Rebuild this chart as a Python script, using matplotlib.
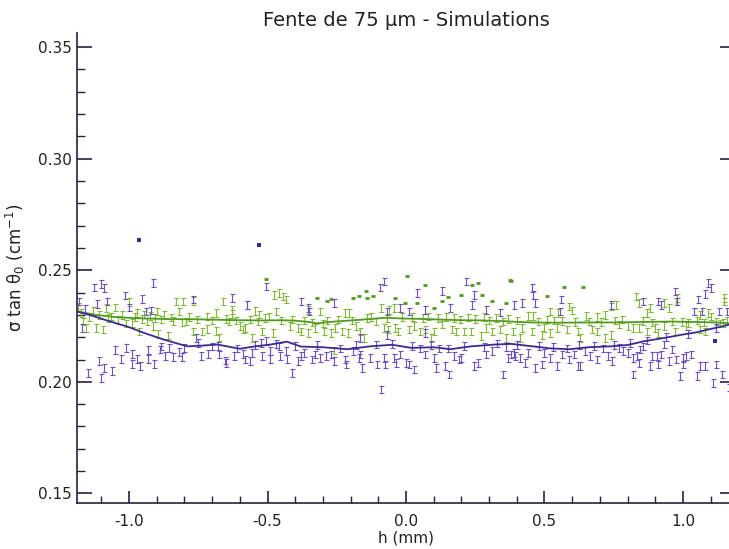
import matplotlib

matplotlib.use("Agg")
import numpy as np
import matplotlib.pyplot as plt
from matplotlib.ticker import MultipleLocator

TITLE = "Fente de 75 μm - Simulations"
XLABEL = "h (mm)"
YLABEL = r"σ tan θ$_0$ (cm$^{-1}$)"

# error half-height of the simulated points
ERR = 0.0017

# green series: points with error bars (h in mm, value in cm^-1)
GREEN_H = [
    -1.185, -1.175, -1.165, -1.155, -1.145, -1.13, -1.12, -1.11, -1.095, -1.085,
    -1.075, -1.065, -1.05, -1.04, -1.025, -1.01, -1.0, -0.99, -0.98, -0.97,
    -0.965, -0.955, -0.945, -0.935, -0.925, -0.915, -0.905, -0.9, -0.895, -0.885,
    -0.875, -0.86, -0.85, -0.84, -0.83, -0.82, -0.81, -0.805, -0.795, -0.785,
    -0.77, -0.77, -0.755, -0.735, -0.72, -0.72, -0.7, -0.685, -0.685, -0.675,
    -0.66, -0.65, -0.64, -0.627, -0.627, -0.615, -0.6, -0.59, -0.58, -0.573,
    -0.565, -0.555, -0.545, -0.535, -0.53, -0.52, -0.51, -0.495, -0.48, -0.476,
    -0.47, -0.46, -0.45, -0.445, -0.433, -0.42, -0.41, -0.39, -0.38, -0.37,
    -0.355, -0.355, -0.34, -0.33, -0.31, -0.3, -0.295, -0.285, -0.27, -0.26,
    -0.255, -0.245, -0.23, -0.22, -0.21, -0.205, -0.195, -0.18, -0.165, -0.15,
    -0.14, -0.125, -0.11, -0.09, -0.08, -0.07, -0.065, -0.06, -0.045, -0.04,
    -0.03, -0.015, 0.01, 0.02, 0.03, 0.05, 0.06, 0.07, 0.08, 0.09,
    0.1, 0.115, 0.13, 0.145, 0.165, 0.175, 0.18, 0.195, 0.21, 0.225,
    0.235, 0.25, 0.27, 0.28, 0.29, 0.3, 0.31, 0.325, 0.34, 0.35,
    0.36, 0.37, 0.385, 0.4, 0.41, 0.42, 0.44, 0.455, 0.46, 0.475,
    0.49, 0.5, 0.51, 0.52, 0.52, 0.535, 0.545, 0.55, 0.565, 0.58,
    0.59, 0.6, 0.61, 0.62, 0.63, 0.65, 0.66, 0.67, 0.69, 0.69,
    0.705, 0.72, 0.72, 0.74, 0.74, 0.755, 0.76, 0.77, 0.78, 0.8,
    0.82, 0.83, 0.84, 0.84, 0.855, 0.87, 0.87, 0.88, 0.89, 0.9,
    0.91, 0.93, 0.93, 0.95, 0.96, 0.97, 0.975, 0.98, 0.995, 1.01,
    1.02, 1.04, 1.05, 1.06, 1.06, 1.075, 1.08, 1.09, 1.1, 1.12,
    1.135, 1.145, 1.148, 1.15, 1.16,
]
GREEN_V = [
    0.2335, 0.2308, 0.2270, 0.2241, 0.2290, 0.2318, 0.2241, 0.2300, 0.2234, 0.2330,
    0.2285, 0.2293, 0.2333, 0.2278, 0.2300, 0.2262, 0.2357, 0.2263, 0.2290, 0.2308,
    0.2226, 0.2282, 0.2301, 0.2270, 0.2295, 0.2250, 0.2285, 0.2316, 0.2214, 0.2280,
    0.2300, 0.2208, 0.2288, 0.2272, 0.2360, 0.2316, 0.2265, 0.2360, 0.2271, 0.2290,
    0.2226, 0.2363, 0.2280, 0.2226, 0.2237, 0.2293, 0.2275, 0.2229, 0.2308, 0.2199,
    0.2360, 0.2282, 0.2270, 0.2323, 0.2305, 0.2275, 0.2249, 0.2234, 0.2241, 0.2345,
    0.2280, 0.2196, 0.2318, 0.2270, 0.2302, 0.2226, 0.2285, 0.2293, 0.2219, 0.2390,
    0.2316, 0.2398, 0.2275, 0.2383, 0.2368, 0.2249, 0.2280, 0.2241, 0.2226, 0.2275,
    0.2323, 0.2219, 0.2265, 0.2241, 0.2316, 0.2262, 0.2226, 0.2275, 0.2219, 0.2140,
    0.2241, 0.2280, 0.2226, 0.2308, 0.2219, 0.2308, 0.2275, 0.2249, 0.2226, 0.2196,
    0.2285, 0.2290, 0.2270, 0.2330, 0.2241, 0.2285, 0.2234, 0.2323, 0.2330, 0.2241,
    0.2226, 0.2290, 0.2234, 0.2290, 0.2249, 0.2226, 0.2285, 0.2234, 0.2292, 0.2196,
    0.2226, 0.2285, 0.2256, 0.2290, 0.2234, 0.2285, 0.2226, 0.2280, 0.2226, 0.2288,
    0.2226, 0.2282, 0.2204, 0.2290, 0.2241, 0.2275, 0.2226, 0.2285, 0.2234, 0.2270,
    0.2196, 0.2282, 0.2226, 0.2275, 0.2196, 0.2241, 0.2296, 0.2226, 0.2296, 0.2270,
    0.2211, 0.2241, 0.2280, 0.2219, 0.2316, 0.2275, 0.2241, 0.2308, 0.2272, 0.2234,
    0.2338, 0.2320, 0.2268, 0.2226, 0.2196, 0.2296, 0.2270, 0.2234, 0.2226, 0.2290,
    0.2268, 0.2196, 0.2300, 0.2211, 0.2338, 0.2275, 0.2343, 0.2256, 0.2280, 0.2249,
    0.2241, 0.2383, 0.2353, 0.2241, 0.2272, 0.2226, 0.2308, 0.2330, 0.2265, 0.2241,
    0.2219, 0.2249, 0.2353, 0.2330, 0.2270, 0.2226, 0.2360, 0.2375, 0.2268, 0.2249,
    0.2263, 0.2316, 0.2275, 0.2234, 0.2300, 0.2266, 0.2226, 0.2308, 0.2293, 0.2271,
    0.2262, 0.2263, 0.2375, 0.2360, 0.2275,
]
# green points whose error bar is only a short dash
GREEN_DOT_H = [
    -0.505, -0.32, -0.285, -0.272, -0.19, -0.17, -0.145, -0.14, -0.12, -0.04,
    -0.005, 0.005, 0.04, 0.07, 0.1, 0.13, 0.15, 0.2, 0.24, 0.26,
    0.275, 0.31, 0.36, 0.375, 0.38, 0.51, 0.57, 0.64,
]
GREEN_DOT_V = [
    0.2460, 0.2375, 0.2360, 0.2372, 0.2375, 0.2383, 0.2408, 0.2375, 0.2383, 0.2375,
    0.2353, 0.2475, 0.2353, 0.2435, 0.2333, 0.2360, 0.2378, 0.2390, 0.2435, 0.2442,
    0.2390, 0.2360, 0.2353, 0.2457, 0.2453, 0.2383, 0.2423, 0.2427,
]
# smoothed green curve
GREEN_LINE_H = [
    -1.19, -1.12, -1.05, -0.95, -0.85, -0.75, -0.68, -0.6, -0.52, -0.45,
    -0.4, -0.35, -0.32, -0.28, -0.2, -0.12, -0.08, -0.02, 0.05, 0.12,
    0.2, 0.28, 0.35, 0.38, 0.45, 0.55, 0.65, 0.75, 0.85, 0.95,
    1.05, 1.12, 1.19,
]
GREEN_LINE_V = [
    0.2316, 0.2300, 0.2290, 0.2284, 0.2281, 0.2280, 0.2278, 0.2276, 0.2275, 0.2276,
    0.2274, 0.2268, 0.2262, 0.2268, 0.2275, 0.2282, 0.2287, 0.2284, 0.2282, 0.2279,
    0.2276, 0.2275, 0.2272, 0.2270, 0.2266, 0.2265, 0.2266, 0.2266, 0.2268, 0.2270,
    0.2268, 0.2266, 0.2260,
]

# purple series: points with error bars
PURPLE_H = [
    -1.18, -1.17, -1.16, -1.15, -1.128, -1.114, -1.11, -1.1, -1.1, -1.09,
    -1.09, -1.08, -1.06, -1.05, -1.03, -1.015, -1.01, -1.0, -0.99, -0.99,
    -0.97, -0.96, -0.955, -0.94, -0.93, -0.93, -0.92, -0.913, -0.91, -0.89,
    -0.885, -0.87, -0.855, -0.84, -0.82, -0.81, -0.8, -0.77, -0.76, -0.75,
    -0.74, -0.715, -0.7, -0.68, -0.675, -0.655, -0.65, -0.63, -0.62, -0.61,
    -0.59, -0.58, -0.573, -0.565, -0.555, -0.545, -0.525, -0.52, -0.505, -0.505,
    -0.49, -0.49, -0.47, -0.46, -0.455, -0.435, -0.43, -0.41, -0.4, -0.39,
    -0.38, -0.38, -0.37, -0.355, -0.35, -0.34, -0.33, -0.32, -0.31, -0.29,
    -0.27, -0.26, -0.26, -0.24, -0.22, -0.215, -0.19, -0.18, -0.17, -0.165,
    -0.165, -0.16, -0.13, -0.11, -0.105, -0.095, -0.09, -0.08, -0.08, -0.075,
    -0.07, -0.07, -0.05, -0.045, -0.035, -0.02, -0.02, 0.0, 0.01, 0.01,
    0.02, 0.03, 0.04, 0.05, 0.07, 0.07, 0.07, 0.09, 0.1, 0.11,
    0.12, 0.13, 0.14, 0.15, 0.155, 0.16, 0.175, 0.19, 0.2, 0.21,
    0.215, 0.24, 0.245, 0.245, 0.26, 0.28, 0.29, 0.29, 0.31, 0.33,
    0.34, 0.35, 0.36, 0.37, 0.38, 0.39, 0.39, 0.395, 0.4, 0.41,
    0.42, 0.43, 0.44, 0.455, 0.46, 0.465, 0.465, 0.48, 0.49, 0.5,
    0.52, 0.53, 0.545, 0.555, 0.56, 0.565, 0.58, 0.59, 0.605, 0.62,
    0.625, 0.63, 0.645, 0.665, 0.68, 0.69, 0.71, 0.73, 0.74, 0.745,
    0.75, 0.77, 0.785, 0.8, 0.81, 0.82, 0.82, 0.835, 0.84, 0.845,
    0.855, 0.855, 0.87, 0.88, 0.89, 0.905, 0.91, 0.91, 0.92, 0.92,
    0.93, 0.94, 0.95, 0.96, 0.97, 0.975, 0.98, 0.99, 1.0, 1.0,
    1.01, 1.02, 1.03, 1.04, 1.05, 1.055, 1.06, 1.07, 1.08, 1.08,
    1.09, 1.1, 1.11, 1.12, 1.12, 1.13, 1.14, 1.16, 1.165,
]
PURPLE_V = [
    0.2360, 0.2240, 0.2325, 0.2040, 0.2423, 0.2348, 0.2092, 0.2438, 0.2018, 0.2420,
    0.2063, 0.2360, 0.2048, 0.2142, 0.2101, 0.2387, 0.2152, 0.2333, 0.2124, 0.2080,
    0.2103, 0.2070, 0.2371, 0.2316, 0.2142, 0.2103, 0.2320, 0.2442, 0.2079, 0.2145,
    0.2159, 0.2115, 0.2152, 0.2110, 0.2134, 0.2110, 0.2152, 0.2368, 0.2196, 0.2175,
    0.2115, 0.2125, 0.2159, 0.2160, 0.2122, 0.2096, 0.2085, 0.2375, 0.2115, 0.2150,
    0.2125, 0.2100, 0.2345, 0.2092, 0.2129, 0.2165, 0.2174, 0.2115, 0.2427, 0.2182,
    0.2137, 0.2103, 0.2170, 0.2159, 0.2115, 0.2137, 0.2103, 0.2040, 0.2160, 0.2092,
    0.2360, 0.2115, 0.2130, 0.2330, 0.2316, 0.2100, 0.2122, 0.2165, 0.2107, 0.2115,
    0.2122, 0.2353, 0.2092, 0.2150, 0.2100, 0.2078, 0.2137, 0.2165, 0.2107, 0.2122,
    0.2196, 0.2063, 0.2107, 0.2168, 0.2078, 0.2423, 0.1966, 0.2450, 0.2107, 0.2078,
    0.2316, 0.2211, 0.2170, 0.2107, 0.2085, 0.2330, 0.2122, 0.2085, 0.2316, 0.2078,
    0.2160, 0.2055, 0.2398, 0.2150, 0.2323, 0.2219, 0.2122, 0.2165, 0.2107, 0.2063,
    0.2150, 0.2408, 0.2070, 0.2150, 0.2033, 0.2330, 0.2115, 0.2100, 0.2107, 0.2160,
    0.2450, 0.2345, 0.2390, 0.2070, 0.2085, 0.2155, 0.2323, 0.2122, 0.2137, 0.2172,
    0.2310, 0.2033, 0.2155, 0.2107, 0.2122, 0.2130, 0.2345, 0.2115, 0.2165, 0.2107,
    0.2353, 0.2085, 0.2130, 0.2420, 0.2390, 0.2353, 0.2063, 0.2160, 0.2078, 0.2130,
    0.2107, 0.2155, 0.2070, 0.2316, 0.2368, 0.2122, 0.2150, 0.2100, 0.2122, 0.2070,
    0.2165, 0.2070, 0.2137, 0.2115, 0.2160, 0.2100, 0.2150, 0.2115, 0.2345, 0.2092,
    0.2165, 0.2152, 0.2137, 0.2130, 0.2175, 0.2107, 0.2033, 0.2115, 0.2085, 0.2145,
    0.2159, 0.2360, 0.2185, 0.2070, 0.2115, 0.2115, 0.2360, 0.2078, 0.2345, 0.2122,
    0.2167, 0.2200, 0.2092, 0.2145, 0.2405, 0.2100, 0.2360, 0.2026, 0.2107, 0.2078,
    0.2115, 0.2215, 0.2122, 0.2316, 0.2026, 0.2368, 0.2070, 0.2316, 0.2393, 0.2070,
    0.2442, 0.2420, 0.1996, 0.2078, 0.2240, 0.2316, 0.2033, 0.2316, 0.1975,
]
# isolated purple points drawn as plain dots
PURPLE_DOT_H = [-0.963, -0.53, 1.115]
PURPLE_DOT_V = [0.2637, 0.2615, 0.2182]
# smoothed purple curve
PURPLE_LINE_H = [
    -1.19, -1.13, -1.07, -1.0, -0.946, -0.874, -0.79, -0.74, -0.68, -0.6,
    -0.55, -0.49, -0.43, -0.38, -0.3, -0.21, -0.13, -0.05, 0.02, 0.1,
    0.16, 0.235, 0.32, 0.38, 0.45, 0.52, 0.59, 0.66, 0.74, 0.8,
    0.86, 0.93, 1.0, 1.05, 1.09, 1.13, 1.19,
]
PURPLE_LINE_V = [
    0.2316, 0.2295, 0.2271, 0.2245, 0.2219, 0.2189, 0.2159, 0.2162, 0.2167, 0.2148,
    0.2158, 0.2167, 0.2180, 0.2158, 0.2155, 0.2146, 0.2159, 0.2166, 0.2152, 0.2155,
    0.2146, 0.2159, 0.2167, 0.2170, 0.2160, 0.2150, 0.2146, 0.2155, 0.2159, 0.2165,
    0.2182, 0.2196, 0.2212, 0.2222, 0.2234, 0.2245, 0.2263,
]

GREEN_PTS = "#80b83a"
GREEN_LN = "#4f9a1c"
PURPLE_PTS = "#6e50c4"
PURPLE_LN = "#3a2a92"
AXIS = "#2a1f3d"
TEXT = "#222222"

plt.rcParams["font.family"] = ["DejaVu Sans"]

fig = plt.figure(figsize=(7.29, 5.49), dpi=100)
# right spine sits just past the image edge, as in the scanned original
ax = fig.add_axes([77 / 729, 1 - 503 / 549, 658 / 729, 470 / 549])

ax.errorbar(GREEN_H, GREEN_V, yerr=ERR, fmt="none", ecolor=GREEN_PTS,
            elinewidth=0.8, capsize=1.8, capthick=0.8)
ax.plot(GREEN_DOT_H, GREEN_DOT_V, "_", color=GREEN_LN, ms=3.5, mew=2.0)
ax.plot(GREEN_LINE_H, GREEN_LINE_V, color=GREEN_LN, lw=1.3)

ax.errorbar(PURPLE_H, PURPLE_V, yerr=ERR, fmt="none", ecolor=PURPLE_PTS,
            elinewidth=0.8, capsize=1.8, capthick=0.8)
ax.plot(PURPLE_DOT_H, PURPLE_DOT_V, "s", color=PURPLE_LN, ms=2.2, mew=0)
ax.plot(PURPLE_LINE_H, PURPLE_LINE_V, color=PURPLE_LN, lw=1.3)

ax.set_xlim(-1.188, 1.188)
ax.set_ylim(0.1457, 0.3563)

ax.xaxis.set_major_locator(MultipleLocator(0.5))
ax.xaxis.set_minor_locator(MultipleLocator(0.1))
ax.yaxis.set_major_locator(MultipleLocator(0.05))
ax.yaxis.set_minor_locator(MultipleLocator(0.01))
ax.xaxis.set_major_formatter(plt.FuncFormatter(lambda v, p: f"{v:.1f}"))
ax.yaxis.set_major_formatter(plt.FuncFormatter(lambda v, p: f"{v:.2f}"))

ax.tick_params(which="both", direction="in", right=True, top=False,
               color=AXIS, labelsize=11, labelcolor=TEXT)
ax.tick_params(which="major", length=11, width=1.2)
ax.tick_params(which="minor", length=6, width=1.0)
ax.tick_params(axis="y", which="minor", right=False)
ax.tick_params(axis="x", which="major", length=9, pad=8)
ax.tick_params(axis="x", which="minor", length=5)

ax.spines["top"].set_visible(False)
for side in ("left", "bottom", "right"):
    ax.spines[side].set_color(AXIS)
    ax.spines[side].set_linewidth(1.2)

ax.set_title(TITLE, fontsize=14, color=TEXT, pad=5)
ax.set_xlabel(XLABEL, fontsize=11, color=TEXT, labelpad=1)
ax.set_ylabel(YLABEL, fontsize=12, color=TEXT, labelpad=8)

fig.savefig("out.png", dpi=100)
